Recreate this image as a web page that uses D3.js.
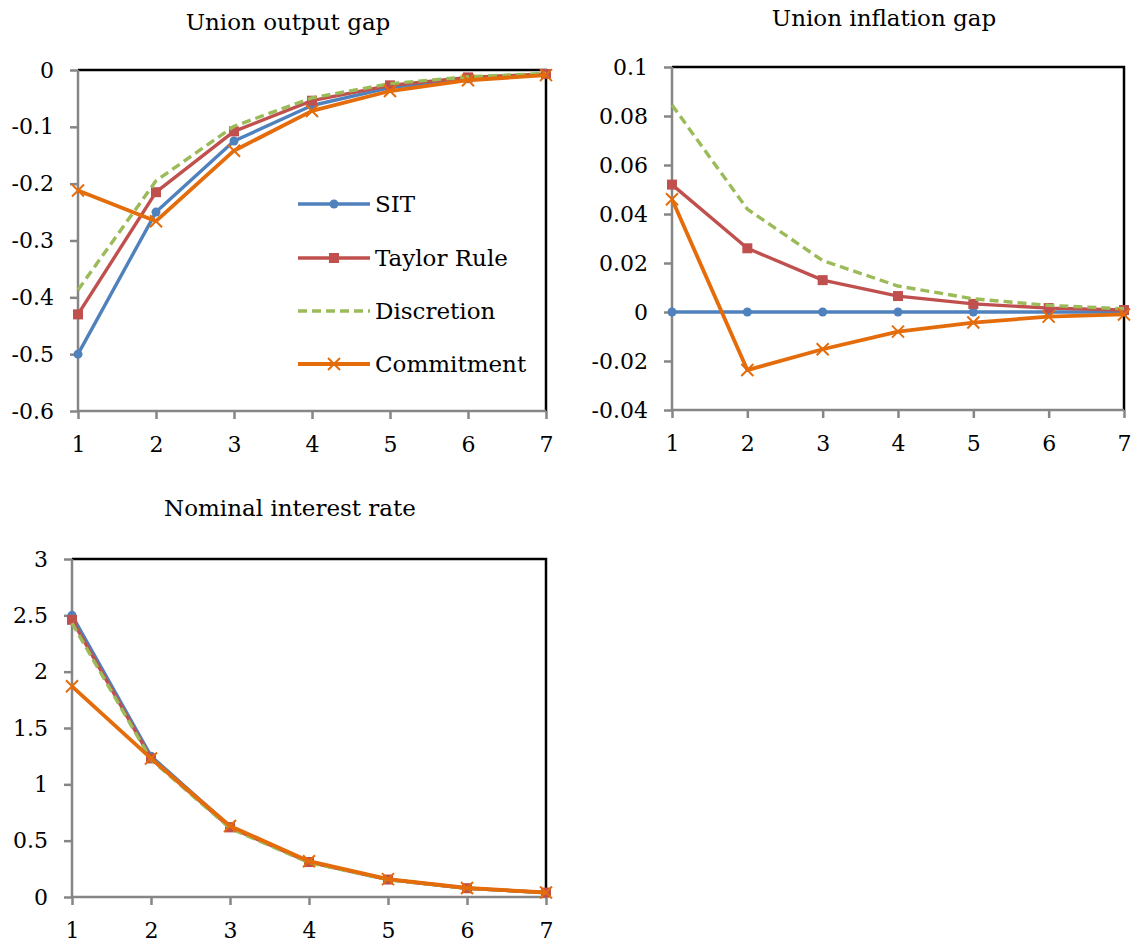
<!DOCTYPE html>
<html><head><meta charset="utf-8">
<script src="https://cdn.jsdelivr.net/npm/d3@7"></script>
<style>body{margin:0;background:#fff}svg text{font-family:"DejaVu Serif",serif;fill:#000}</style>
</head><body>
<svg id="c" width="1138" height="947"></svg>
<script>
const periods = [1,2,3,4,5,6,7];
const seriesNames = ["SIT","Taylor Rule","Discretion","Commitment"];
// Union output gap
const outputSIT        = [-0.5,-0.25,-0.125,-0.0625,-0.031,-0.0156,-0.0078];
const outputTaylor     = [-0.43,-0.215,-0.108,-0.054,-0.027,-0.013,-0.007];
const outputDiscretion = [-0.387,-0.195,-0.099,-0.049,-0.024,-0.012,-0.006];
const outputCommitment = [-0.212,-0.266,-0.142,-0.072,-0.037,-0.018,-0.009];
// Union inflation gap
const inflSIT        = [0,0,0,0,0,0,0];
const inflTaylor     = [0.052,0.026,0.013,0.0065,0.0033,0.0016,0.0008];
const inflDiscretion = [0.0845,0.042,0.021,0.0106,0.0054,0.0027,0.0013];
const inflCommitment = [0.046,-0.0237,-0.0152,-0.008,-0.0043,-0.0019,-0.001];
// Nominal interest rate
const rateSIT        = [2.5,1.25,0.625,0.3125,0.156,0.078,0.039];
const rateTaylor     = [2.46,1.23,0.618,0.31,0.155,0.078,0.039];
const rateDiscretion = [2.43,1.22,0.61,0.305,0.153,0.077,0.038];
const rateCommitment = [1.87,1.23,0.63,0.318,0.159,0.08,0.04];

const outputTicks = [0,-0.1,-0.2,-0.3,-0.4,-0.5,-0.6];
const inflTicks = [0.1,0.08,0.06,0.04,0.02,0,-0.02,-0.04];
const rateTicks = [3,2.5,2,1.5,1,0.5,0];

const colors = ["#4F81BD","#C0504D","#9BBB59","#E46C0A"];
const markers = ["circle","square",null,"x"];

const svg = d3.select("#c");

function drawMarker(g, type, x, y, color){
  if(type==="circle") g.append("circle").attr("cx",x).attr("cy",y).attr("r",4.5).attr("fill",color);
  else if(type==="square") g.append("rect").attr("x",x-5).attr("y",y-5).attr("width",10).attr("height",10).attr("fill",color);
  else if(type==="x") g.append("path").attr("d",`M${x-6},${y-6}L${x+6},${y+6}M${x-6},${y+6}L${x+6},${y-6}`).attr("stroke",color).attr("stroke-width",2);
}

function panel(opt){
  const {title, titleX, titleY, x0, x1, y0, y1, domain, ticks, fmt, data} = opt;
  const g = svg.append("g");
  const x = d3.scaleLinear().domain([1,7]).range([x0,x1]);
  const y = d3.scaleLinear().domain(domain).range([y0,y1]);
  g.append("path").attr("d",`M${x0},${y0}H${x1}V${y1}`).attr("fill","none").attr("stroke","#000").attr("stroke-width",2.5);
  const ya = g.append("g").attr("transform",`translate(${x0},0)`)
    .call(d3.axisLeft(y).tickValues(ticks).tickSize(8).tickPadding(16).tickFormat(fmt));
  const xa = g.append("g").attr("transform",`translate(0,${y1})`)
    .call(d3.axisBottom(x).tickValues(periods).tickSize(8).tickPadding(17).tickFormat(d3.format("d")));
  [ya,xa].forEach(a=>{
    a.select(".domain").attr("stroke","#868686").attr("stroke-width",2.5);
    a.selectAll(".tick line").attr("stroke","#868686").attr("stroke-width",2.5);
    a.selectAll(".tick text").attr("font-size",22).attr("font-family","DejaVu Serif");
  });
  ya.select(".domain").attr("d",`M0,${y0}V${y1}`);
  xa.select(".domain").attr("d",`M${x0},0H${x1}`);
  g.append("text").attr("x",titleX).attr("y",titleY).attr("text-anchor","middle").attr("font-size",23).text(title);
  const line = d3.line().x((d,i)=>x(periods[i])).y(d=>y(d));
  data.forEach((vals,k)=>{
    g.append("path").attr("d",line(vals)).attr("fill","none").attr("stroke",colors[k])
      .attr("stroke-width",k===3?3.8:3.4).attr("stroke-linejoin","round")
      .attr("stroke-dasharray",k===2?"9,5":null);
    if(markers[k]) vals.forEach((v,i)=>drawMarker(g,markers[k],x(periods[i]),y(v),colors[k]));
  });
  return g;
}

const fmtOut = d=> d===0?"0":d3.format(".1f")(d).replace("−","-");
const fmtInf = d=> d===0?"0":(d===0.1?"0.1":d3.format(".2f")(d).replace("−","-"));
const fmtRate = d=> String(d);

const g1 = panel({title:"Union output gap", titleX:288, titleY:30, x0:78, x1:546, y0:70, y1:411,
  domain:[0,-0.6], ticks:outputTicks, fmt:fmtOut,
  data:[outputSIT,outputTaylor,outputDiscretion,outputCommitment]});
panel({title:"Union inflation gap", titleX:884, titleY:26, x0:672, x1:1124, y0:67, y1:410,
  domain:[0.1,-0.04], ticks:inflTicks, fmt:fmtInf,
  data:[inflSIT,inflTaylor,inflDiscretion,inflCommitment]});
panel({title:"Nominal interest rate", titleX:290, titleY:516, x0:72, x1:546, y0:559, y1:897,
  domain:[3,0], ticks:rateTicks, fmt:fmtRate,
  data:[rateSIT,rateTaylor,rateDiscretion,rateCommitment]});

const legY = [204,258,311,364];
seriesNames.forEach((name,k)=>{
  const lg = g1.append("g");
  lg.append("line").attr("x1",298).attr("x2",370).attr("y1",legY[k]).attr("y2",legY[k])
    .attr("stroke",colors[k]).attr("stroke-width",k===3?3.8:3.4).attr("stroke-dasharray",k===2?"9,5":null);
  if(markers[k]) drawMarker(lg,markers[k],334,legY[k],colors[k]);
  lg.append("text").attr("x",375).attr("y",legY[k]+8).attr("font-size",23).text(name);
});
</script>
</body></html>
